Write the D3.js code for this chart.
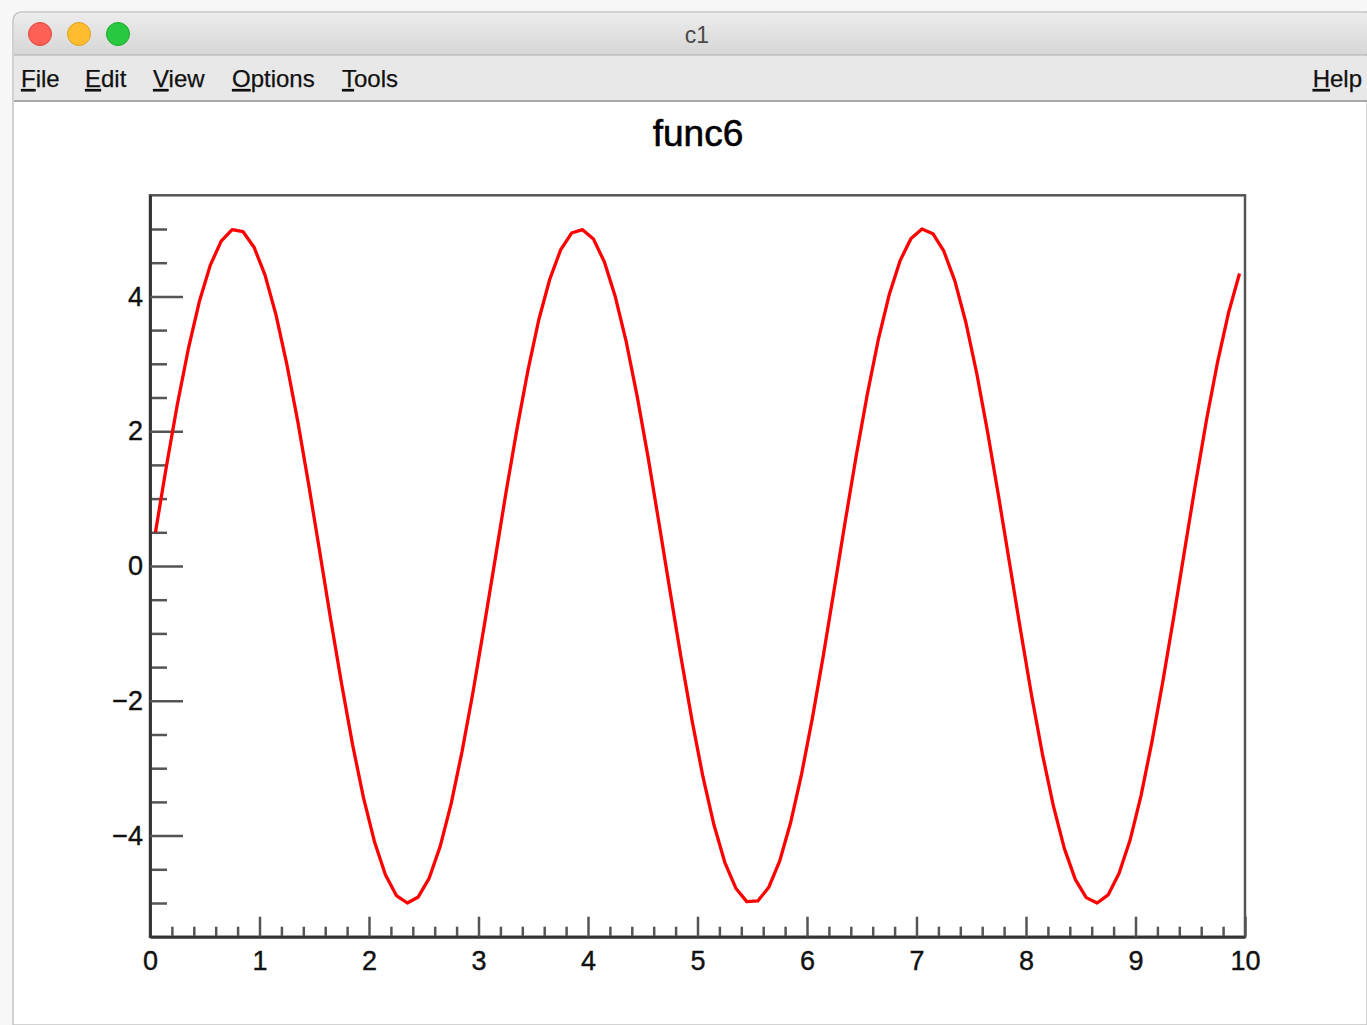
<!DOCTYPE html>
<html>
<head>
<meta charset="utf-8">
<script src="https://cdn.jsdelivr.net/npm/d3@7"></script>
<style>
  html, body { margin: 0; padding: 0; background: #f6f6f6; overflow: hidden; }
  svg { display: block; font-family: "Liberation Sans", Arial, Helvetica, sans-serif; }
</style>
</head>
<body>
<svg id="win" width="1367" height="1025"></svg>
<script>
const xs = [0.05,0.15,0.25,0.35,0.45,0.55,0.65,0.75,0.85,0.95,
  1.05,1.15,1.25,1.35,1.45,1.55,1.65,1.75,1.85,1.95,
  2.05,2.15,2.25,2.35,2.45,2.55,2.65,2.75,2.85,2.95,
  3.05,3.15,3.25,3.35,3.45,3.55,3.65,3.75,3.85,3.95,
  4.05,4.15,4.25,4.35,4.45,4.55,4.65,4.75,4.85,4.95,
  5.05,5.15,5.25,5.35,5.45,5.55,5.65,5.75,5.85,5.95,
  6.05,6.15,6.25,6.35,6.45,6.55,6.65,6.75,6.85,6.95,
  7.05,7.15,7.25,7.35,7.45,7.55,7.65,7.75,7.85,7.95,
  8.05,8.15,8.25,8.35,8.45,8.55,8.65,8.75,8.85,8.95,
  9.05,9.15,9.25,9.35,9.45,9.55,9.65,9.75,9.85,9.95]
const ys = [0.50,1.48,2.40,3.22,3.92,4.46,4.82,4.99,4.96,4.73,
  4.32,3.73,2.99,2.14,1.20,0.21,-0.79,-1.75,-2.65,-3.44,
  -4.09,-4.58,-4.89,-5.00,-4.91,-4.63,-4.16,-3.53,-2.75,-1.87,
  -0.91,0.08,1.08,2.02,2.89,3.65,4.25,4.69,4.94,4.99,
  4.85,4.51,3.99,3.32,2.51,1.60,0.62,-0.38,-1.36,-2.29,
  -3.13,-3.84,-4.40,-4.78,-4.98,-4.97,-4.77,-4.38,-3.81,-3.09,
  -2.25,-1.32,-0.33,0.67,1.64,2.54,3.35,4.02,4.53,4.86,
  5.00,4.93,4.67,4.23,3.62,2.86,1.98,1.03,0.04,-0.95,
  -1.91,-2.79,-3.56,-4.19,-4.65,-4.92,-5.00,-4.88,-4.56,-4.07,
  -3.41,-2.61,-1.71,-0.75,0.25,1.24,2.18,3.03,3.76,4.34]

const xDomain = [0, 10]
const yDomain = [-5.5, 5.5]
const xMajor = [0,1,2,3,4,5,6,7,8,9,10]
const xMinor = [0.2,0.4,0.6,0.8,1.2,1.4,1.6,1.8,2.2,2.4,2.6,2.8,3.2,3.4,3.6,3.8,
  4.2,4.4,4.6,4.8,5.2,5.4,5.6,5.8,6.2,6.4,6.6,6.8,7.2,7.4,7.6,7.8,8.2,8.4,8.6,8.8,
  9.2,9.4,9.6,9.8]
const yMajor = [-4,-2,0,2,4]
const yMinor = [-5,-4.5,-3.5,-3,-2.5,-1.5,-1,-0.5,0.5,1,1.5,2.5,3,3.5,4.5,5]
const menuItems = ["File","Edit","View","Options","Tools"]

const svg = d3.select("#win")

// ---- window chrome ----
const defs = svg.append("defs")
const grad = defs.append("linearGradient").attr("id","tbar").attr("x1",0).attr("x2",0).attr("y1",0).attr("y2",1)
grad.append("stop").attr("offset","0%").attr("stop-color","#ececec")
grad.append("stop").attr("offset","100%").attr("stop-color","#d6d6d6")

svg.append("rect").attr("x",0).attr("y",0).attr("width",1367).attr("height",1025).attr("fill","#f7f7f7")

// window body
svg.append("path")
  .attr("d","M13,1025 L13,22 Q13,12 23,12 L1367,12 L1367,1025 Z")
  .attr("fill","#ffffff")
  .attr("stroke","#c4c4c4")
  .attr("stroke-width",1.5)

svg.append("path")
  .attr("d","M14,55 L14,22 Q14,13 23,13 L1367,13 L1367,55 Z")
  .attr("fill","url(#tbar)")
svg.append("line").attr("x1",14).attr("x2",1367).attr("y1",55).attr("y2",55).attr("stroke","#b9b9b9").attr("stroke-width",1.5)

var lights = [[40,"#fe5f57","#e2463f"],[79,"#febc2e","#dea123"],[118,"#28c840","#1aab29"]]
svg.selectAll(".light").data(lights).join("circle")
  .attr("class","light")
  .attr("cx", d => d[0]).attr("cy",34).attr("r",11.5)
  .attr("fill", d => d[1]).attr("stroke", d => d[2]).attr("stroke-width",1)

svg.append("text").attr("x",697).attr("y",43).attr("text-anchor","middle")
  .attr("font-size",23).attr("fill","#4a4a4a").text("c1")

// menu bar
svg.append("rect").attr("x",14).attr("y",56).attr("width",1353).attr("height",45).attr("fill","#e8e8e8")
svg.append("line").attr("x1",14).attr("x2",1367).attr("y1",101).attr("y2",101).attr("stroke","#a8a8a8").attr("stroke-width",2)

var menuX = [21, 85, 153, 232, 342]
var menu = svg.append("g").attr("font-size",24).attr("fill","#111")
  .attr("stroke","#111").attr("stroke-width",0.25)
menuItems.forEach(function(m, i) {
  var t = menu.append("text").attr("x", menuX[i]).attr("y", 87)
  t.append("tspan").attr("text-decoration","underline").text(m[0])
  t.append("tspan").text(m.slice(1))
})
// the reference window runs past the right edge; keep Help fully inside
var help = menu.append("text").attr("x",1362).attr("y",87).attr("text-anchor","end")
help.append("tspan").attr("text-decoration","underline").text("H")
help.append("tspan").text("elp")

// ---- plot ----
const x = d3.scaleLinear().domain(xDomain).range([150, 1245])
const y = d3.scaleLinear().domain(yDomain).range([936.7, 195.3])

svg.append("text").attr("x",698).attr("y",146).attr("text-anchor","middle")
  .attr("font-size",37).attr("fill","#000").attr("stroke","#000").attr("stroke-width",0.6)
  .text("func6")

const plot = svg.append("g")

// frame
plot.append("rect")
  .attr("x", x(0)).attr("y", y(5.5))
  .attr("width", x(10) - x(0)).attr("height", y(-5.5) - y(5.5))
  .attr("fill","none").attr("stroke","#555").attr("stroke-width",2.5)

// minor ticks
plot.append("g").attr("transform","translate(0," + y(-5.5) + ")")
  .call(d3.axisBottom(x).tickValues(xMinor).tickFormat("").tickSizeInner(-10).tickSizeOuter(0))
plot.append("g").attr("transform","translate(" + x(0) + ",0)")
  .call(d3.axisLeft(y).tickValues(yMinor).tickFormat("").tickSizeInner(-17).tickSizeOuter(0))

// major ticks + labels
plot.append("g").attr("class","xaxis").attr("transform","translate(0," + y(-5.5) + ")")
  .call(d3.axisBottom(x).tickValues(xMajor).tickFormat(d3.format("d")).tickSizeInner(-20).tickSizeOuter(0).tickPadding(14))
plot.append("g").attr("class","yaxis").attr("transform","translate(" + x(0) + ",0)")
  .call(d3.axisLeft(y).tickValues(yMajor).tickFormat(d3.format("d")).tickSizeInner(-33).tickSizeOuter(0).tickPadding(7))

plot.selectAll(".tick line").attr("stroke","#555").attr("stroke-width",2.5)
plot.selectAll(".domain").attr("stroke","#333").attr("stroke-width",2.5)
plot.selectAll(".tick text")
  .attr("font-size",27).attr("fill","#111").attr("stroke","#111").attr("stroke-width",0.4)
  .attr("font-family","'Liberation Sans', Arial, Helvetica, sans-serif")

// curve
const pts = xs.map((v, i) => [v, ys[i]])
plot.append("path")
  .datum(pts)
  .attr("fill","none")
  .attr("stroke","#ff0000")
  .attr("stroke-width",3.3)
  .attr("stroke-linejoin","round")
  .attr("d", d3.line().x(d => x(d[0])).y(d => y(d[1])))
</script>
</body>
</html>
